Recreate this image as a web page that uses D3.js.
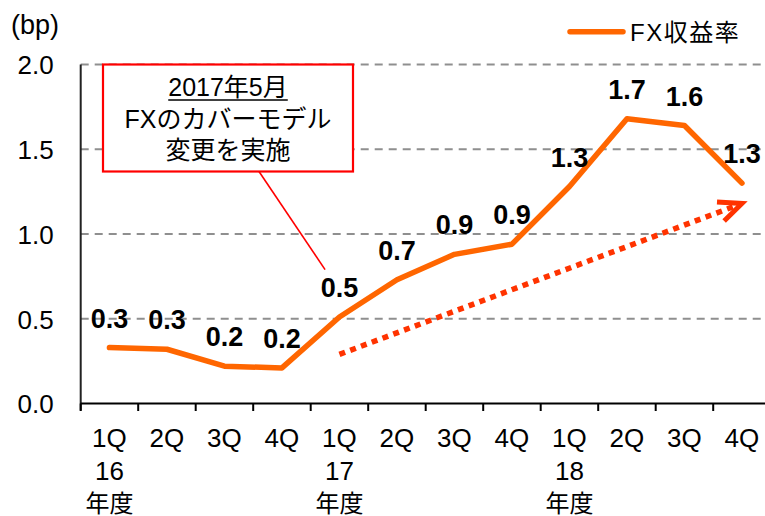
<!DOCTYPE html>
<html>
<head>
<meta charset="utf-8">
<script src="https://cdn.jsdelivr.net/npm/d3@7"></script>
<style>
  html, body { margin: 0; padding: 0; background: #fff; }
  svg { display: block; }
  text { font-family: "Liberation Sans", Arial, "Noto Sans CJK JP", sans-serif; fill: #000; }
</style>
</head>
<body>
<svg id="chart" width="765" height="516"></svg>
<script>
// Quarterly FX yield (bp), fiscal 2016 – 2018
const quarters = ["1Q", "2Q", "3Q", "4Q", "1Q", "2Q", "3Q", "4Q", "1Q", "2Q", "3Q", "4Q"];
const fiscalYears = ["16", "", "", "", "17", "", "", "", "18", "", "", ""];
const fxYield = [0.33, 0.32, 0.22, 0.21, 0.51, 0.73, 0.88, 0.94, 1.28, 1.68, 1.64, 1.30];
const yTicks = [0, 0.5, 1.0, 1.5, 2.0];
const seriesName = "FX収益率";
const unitLabel = "(bp)";
const yearSuffix = "年度";
const noteLines = ["2017年5月", "FXのカバーモデル", "変更を実施"];
// trend arrow: start/end as [quarter index, value]
const trendStart = [4, 0.29];
const trendEnd = [11, 1.18];
// leader line target near the model-change quarter
const noteTarget = [3.75, 0.79];

const svg = d3.select("#chart");
const W = 765;

const x = d3.scaleBand().domain(d3.range(quarters.length)).range([80.7, 770.7]).padding(0);
const cx = i => x(0) + x.bandwidth() * (i + 0.5);
const y = d3.scaleLinear().domain([0, 2]).range([403.5, 64.5]);

// gridlines
svg.append("g")
  .selectAll("line")
  .data(yTicks.filter(d => d > 0))
  .join("line")
  .attr("x1", x(0)).attr("x2", W)
  .attr("y1", d => y(d)).attr("y2", d => y(d))
  .attr("stroke", "#8f8f8f")
  .attr("stroke-width", 2)
  .attr("stroke-dasharray", "8,6");

// y axis
const yAxis = svg.append("g")
  .attr("transform", `translate(${x(0)},0)`)
  .call(d3.axisLeft(y).tickValues(yTicks).tickFormat(d3.format(".1f")).tickSize(0).tickSizeOuter(0).tickPadding(27));
yAxis.select(".domain").attr("stroke", "#222").attr("stroke-width", 2)
  .attr("d", `M0,${y(2)}V${y(0) + 7}`);
yAxis.selectAll("text")
  .attr("font-size", 26)
  .attr("font-family", "\"Liberation Sans\", Arial, sans-serif")
  .attr("fill", "#000")
  .attr("dy", "0.36em");

svg.append("text")
  .attr("x", 11).attr("y", 34)
  .attr("font-size", 27)
  .text(unitLabel);

// x axis: baseline with ticks at quarter boundaries
const xAxis = svg.append("g");
xAxis.append("line")
  .attr("x1", x(0)).attr("x2", W)
  .attr("y1", y(0)).attr("y2", y(0))
  .attr("stroke", "#000").attr("stroke-width", 2.2);
xAxis.selectAll("line.tick")
  .data(d3.range(quarters.length + 1))
  .join("line")
  .attr("class", "tick")
  .attr("x1", i => x(0) + x.bandwidth() * i)
  .attr("x2", i => x(0) + x.bandwidth() * i)
  .attr("y1", y(0)).attr("y2", y(0) + 7.5)
  .attr("stroke", "#000").attr("stroke-width", 2);

const cats = xAxis.selectAll("g.cat")
  .data(quarters.map((q, i) => ({ q, fy: fiscalYears[i], i })))
  .join("g")
  .attr("class", "cat")
  .attr("transform", d => `translate(${cx(d.i)},0)`);
cats.append("text")
  .attr("y", 447)
  .attr("text-anchor", "middle")
  .attr("font-size", 26)
  .text(d => d.q);
const fyCats = cats.filter(d => d.fy !== "");
fyCats.append("text")
  .attr("y", 480)
  .attr("text-anchor", "middle")
  .attr("font-size", 26)
  .text(d => d.fy);
fyCats.append("text")
  .attr("y", 512)
  .attr("text-anchor", "middle")
  .attr("font-size", 24)
  .attr("font-family", "\"Noto Sans CJK JP\", sans-serif")
  .text(yearSuffix);

// trend arrow (dotted)
const tx0 = cx(trendStart[0]), ty0 = y(trendStart[1]);
const tx1 = cx(trendEnd[0]), ty1 = y(trendEnd[1]);
const ang = Math.atan2(ty1 - ty0, tx1 - tx0);
const shaft = 6;
svg.append("line")
  .attr("x1", tx0).attr("y1", ty0)
  .attr("x2", tx1 - shaft * Math.cos(ang)).attr("y2", ty1 - shaft * Math.sin(ang))
  .attr("stroke", "#FF3300")
  .attr("stroke-width", 5.5)
  .attr("stroke-dasharray", "6,5.5");
const headLen = 25, headAng = 24 * Math.PI / 180;
const back = ang + Math.PI;
svg.append("path")
  .attr("d", `M${tx1 + headLen * Math.cos(back - headAng)},${ty1 + headLen * Math.sin(back - headAng)}L${tx1},${ty1}L${tx1 + headLen * Math.cos(back + headAng)},${ty1 + headLen * Math.sin(back + headAng)}`)
  .attr("fill", "none")
  .attr("stroke", "#FF3300")
  .attr("stroke-width", 5)
  .attr("stroke-linejoin", "miter")
  .attr("stroke-linecap", "butt");

// FX yield line
const line = d3.line().x((d, i) => cx(i)).y(d => y(d));
svg.append("path")
  .datum(fxYield)
  .attr("d", line)
  .attr("fill", "none")
  .attr("stroke", "#FF6600")
  .attr("stroke-width", 5.5)
  .attr("stroke-linejoin", "round")
  .attr("stroke-linecap", "round");

// value labels
svg.append("g")
  .selectAll("text")
  .data(fxYield)
  .join("text")
  .attr("x", (d, i) => cx(i))
  .attr("y", d => y(d) - 20)
  .attr("text-anchor", "middle")
  .attr("font-size", 27)
  .attr("font-weight", "bold")
  .text(d => d3.format(".1f")(d));

// annotation box with leader line
const box = { x: 103, y: 64.5, w: 250, h: 107 };
svg.append("line")
  .attr("x1", 259).attr("y1", box.y + box.h)
  .attr("x2", x(0) + x.bandwidth() * (noteTarget[0] + 0.5)).attr("y2", y(noteTarget[1]))
  .attr("stroke", "#FF0000").attr("stroke-width", 1.6);
svg.append("rect")
  .attr("x", box.x).attr("y", box.y)
  .attr("width", box.w).attr("height", box.h)
  .attr("fill", "#fff")
  .attr("stroke", "#FF0000")
  .attr("stroke-width", 2.2);
const note = svg.append("g");
note.selectAll("text")
  .data(noteLines)
  .join("text")
  .attr("x", box.x + box.w / 2)
  .attr("y", (d, i) => 96 + i * 31.5)
  .attr("text-anchor", "middle")
  .attr("font-size", 25)
  .text(d => d);
const first = note.select("text").node().getBBox();
svg.append("line")
  .attr("x1", first.x).attr("x2", first.x + first.width)
  .attr("y1", 100).attr("y2", 100)
  .attr("stroke", "#000").attr("stroke-width", 1.3);

// legend
svg.append("line")
  .attr("x1", 570).attr("x2", 623)
  .attr("y1", 31.7).attr("y2", 31.7)
  .attr("stroke", "#FF6600")
  .attr("stroke-width", 5.5)
  .attr("stroke-linecap", "round");
svg.append("text")
  .attr("x", 630).attr("y", 41)
  .attr("font-size", 24)
  .attr("letter-spacing", 1.5)
  .text(seriesName);
</script>
</body>
</html>
